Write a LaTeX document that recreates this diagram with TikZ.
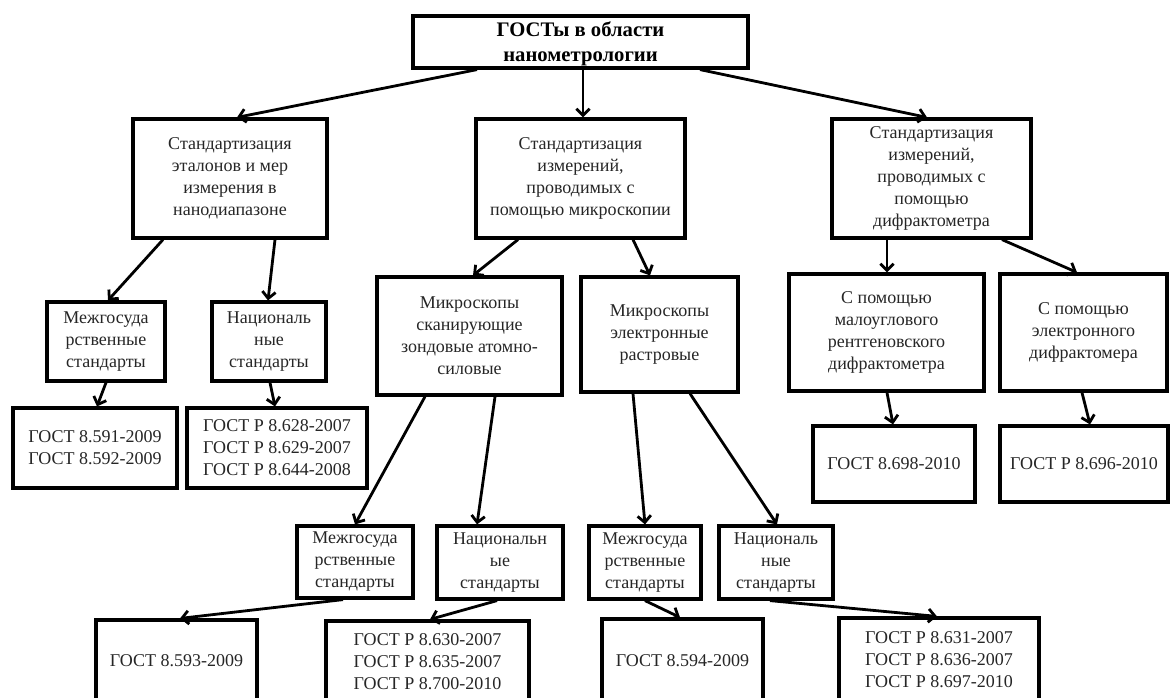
\documentclass[tikz,border=0pt]{standalone}
\usepackage{fontspec}
\setmainfont{Liberation Serif}
\usetikzlibrary{arrows.meta,calc}

\tikzset{
  box/.style={draw, line width=2.4pt, align=center, inner sep=0pt,
    font=\fontsize{13.5}{16.5}\selectfont, text=black!85},
  sz/.style 2 args={minimum width=#1*0.75pt, minimum height=#2*0.75pt},
  arr/.style={line width=2.1pt, -{Straight Barb[length=5pt,width=10pt]}}
}
\newcommand{\lowered}[1]{\raisebox{-1.5pt}[\height][\depth]{#1}}

\begin{document}
\begin{tikzpicture}[x=0.75pt,y=-0.75pt]
\useasboundingbox (0,0) rectangle (1170,697);
\fill[white] (0,0) rectangle (1170,697);
\clip (0,0) rectangle (1170,697);

% top levels
\node[box, sz={335}{52}, font=\fontsize{15.5}{19}\selectfont\bfseries, text=black] (title) at (580.5,42) {\lowered{ГОСТы в области}\\\lowered{нанометрологии}};
\node[box, sz={194}{119}] (stdA) at (230,178.5) {Стандартизация\\эталонов и мер\\измерения в\\нанодиапазоне};
\node[box, sz={209}{119}] (stdB) at (580.5,178.5) {Стандартизация\\измерений,\\проводимых с\\помощью микроскопии};
\node[box, sz={199}{119}] (stdC) at (931.5,178.5) {Стандартизация\\измерений,\\проводимых с\\помощью\\дифрактометра};

\node[box, sz={118}{79}] (mezA) at (106,341.5) {Межгосуда\\рственные\\стандарты};
\node[box, sz={114}{79}] (natA) at (269,341.5) {Националь\\ные\\стандарты};
\node[box, sz={185}{118}] (afm) at (469.5,336) {Микроскопы\\сканирующие\\зондовые атомно-\\силовые};
\node[box, sz={157}{115}] (sem) at (659.5,334.5) {Микроскопы\\электронные\\растровые};
\node[box, sz={195}{117}] (saxs) at (886.5,332.5) {С помощью\\малоуглового\\рентгеновского\\дифрактометра};
\node[box, sz={167}{117}] (eldif) at (1083.5,332.5) {С помощью\\электронного\\дифрактомера};

\node[box, sz={164}{80}] (gostA1) at (95,448) {ГОСТ 8.591-2009\\ГОСТ 8.592-2009};
\node[box, sz={180}{80}] (gostA2) at (277,448) {ГОСТ Р 8.628-2007\\ГОСТ Р 8.629-2007\\ГОСТ Р 8.644-2008};
\node[box, sz={162}{76}] (gostC1) at (894,464) {ГОСТ 8.698-2010};
\node[box, sz={168}{76}] (gostC2) at (1084,464) {ГОСТ Р 8.696-2010};

\node[box, sz={116}{72}] (mezB) at (355,562) {Межгосуда\\рственные\\стандарты};
\node[box, sz={126}{73}] (natB) at (500,562.5) {Национальн\\ые\\стандарты};
\node[box, sz={112}{73}] (mezC) at (645,562.5) {Межгосуда\\рственные\\стандарты};
\node[box, sz={114}{73}] (natC) at (776,562.5) {Националь\\ные\\стандарты};

% bottom row (cut by the page edge)
\node[box, sz={161}{82}] (gostB1) at (176.5,661) {ГОСТ 8.593-2009};
\node[box, sz={203}{81}] (gostB2) at (427.5,661.5) {ГОСТ Р 8.630-2007\\ГОСТ Р 8.635-2007\\ГОСТ Р 8.700-2010};
\node[box, sz={161}{83}] (gostB3) at (682.5,660.5) {ГОСТ 8.594-2009};
\node[box, sz={200}{84}] (gostB4) at (939,660) {ГОСТ Р 8.631-2007\\ГОСТ Р 8.636-2007\\ГОСТ Р 8.697-2010};

% arrows
\draw[arr] ($(title.south)+(-103.5,0)$) -- ($(stdA.north)+(7,0)$);
\draw[arr] ($(title.south)+(2.5,0)$) -- ($(stdB.north)+(2.5,0)$);
\draw[arr] ($(title.south)+(119.5,0)$) -- ($(stdC.north)+(-4.5,0)$);

\draw[arr] ($(stdA.south)+(-67,0)$) -- ($(mezA.north)+(2,0)$);
\draw[arr] ($(stdA.south)+(45,0)$) -- ($(natA.north)+(-1,0)$);
\draw[arr] (mezA.south) -- ($(gostA1.north)+(2,0)$);
\draw[arr] ($(natA.south)+(1,0)$) -- ($(gostA2.north)+(-2,0)$);

\draw[arr] ($(stdB.south)+(-62.5,0)$) -- ($(afm.north)+(3.5,0)$);
\draw[arr] ($(stdB.south)+(52.5,0)$) -- ($(sem.north)+(-9.5,0)$);
\draw[arr] ($(stdC.south)+(-44.5,0)$) -- ($(saxs.north)+(0.5,0)$);
\draw[arr] ($(stdC.south)+(70.5,0)$) -- ($(eldif.north)+(-6.5,0)$);
\draw[arr] ($(saxs.south)+(0.5,0)$) -- ($(gostC1.north)+(-1,0)$);
\draw[arr] ($(eldif.south)+(-1.5,0)$) -- ($(gostC2.north)+(6,0)$);

\draw[arr] ($(afm.south)+(-44.5,0)$) -- (mezB.north);
\draw[arr] ($(afm.south)+(25.5,0)$) -- ($(natB.north)+(-23,0)$);
\draw[arr] ($(sem.south)+(-26.5,0)$) -- (mezC.north);
\draw[arr] ($(sem.south)+(30.5,0)$) -- ($(natC.north)+(1,0)$);

\draw[arr] ($(mezB.south)+(-12,0)$) -- ($(gostB1.north)+(3.5,0)$);
\draw[arr] ($(natB.south)+(-3,0)$) -- ($(gostB2.north)+(2.5,0)$);
\draw[arr] (mezC.south) -- ($(gostB3.north)+(-2.5,0)$);
\draw[arr] ($(natC.south)+(-6,0)$) -- ($(gostB4.north)+(-2,0)$);
\end{tikzpicture}
\end{document}
